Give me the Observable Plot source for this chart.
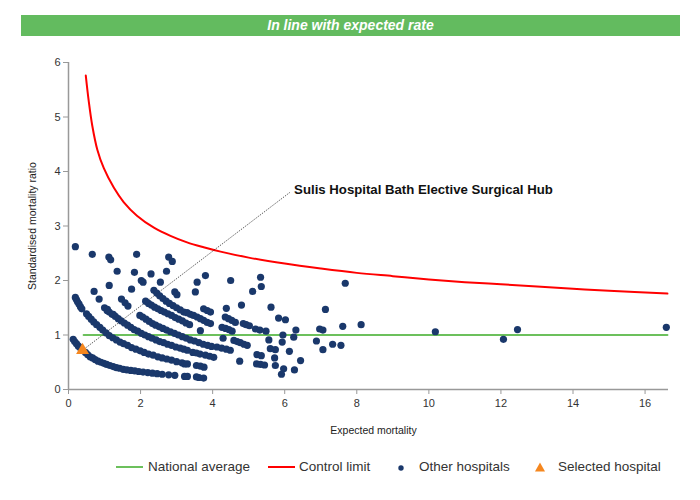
<!DOCTYPE html>
<html>
<head>
<meta charset="utf-8">
<script src="https://cdn.jsdelivr.net/npm/d3@7"></script>
<script src="https://cdn.jsdelivr.net/npm/@observablehq/plot@0.6"></script>
<style>
  html, body { margin: 0; padding: 0; background: #fff; }
  body { width: 700px; height: 500px; position: relative; overflow: hidden; font-family: "Liberation Sans", Arial, sans-serif; }
  #header { position: absolute; left: 21px; top: 15px; width: 659px; height: 21px; background: #63bb5f;
    color: #fff; font-family: "Liberation Sans Narrow", "Arial Narrow", "Liberation Sans", sans-serif; font-weight: bold; font-style: italic;
    font-size: 14px; line-height: 21px; text-align: center; }
  #chart { position: absolute; left: 0; top: 40px; }
  #legend { position: absolute; left: 0; top: 458px; width: 700px; height: 20px; font-size: 13.5px; color: #333; }
  #legend .sw, #legend .tx { position: absolute; }
  #legend .tx { top: 0; line-height: 18px; white-space: nowrap; }
</style>
</head>
<body>
<div id="header">In line with expected rate</div>
<div id="chart"></div>
<div id="legend"></div>
<script>
// ---- data (expected mortality, standardised mortality ratio) ----
const xTicks = [0, 2, 4, 6, 8, 10, 12, 14, 16];
const yTicks = [0, 1, 2, 3, 4, 5, 6];

const nationalAverageE = [0.42, 16.62];
const nationalAverageSMR = [1, 1];

const controlLimitE   = [0.48, 0.56, 0.66, 0.8, 0.98, 1.26, 1.53, 1.9, 2.37, 2.83, 3.29, 3.75, 4.22, 5, 6, 7, 8, 9, 10, 11, 12, 13, 14, 15, 16.62];
const controlLimitSMR = [5.76, 5.3, 4.84, 4.4, 4.06, 3.7, 3.44, 3.19, 2.97, 2.82, 2.7, 2.61, 2.53, 2.42, 2.31, 2.22, 2.14, 2.08, 2.02, 1.97, 1.93, 1.89, 1.85, 1.81, 1.76];

const bandA = [[0.13,0.92],[0.17,0.88],[0.22,0.84],[0.27,0.8],[0.32,0.77],[0.47,0.68],[0.53,0.64],[0.6,0.6],[0.67,0.58],[0.74,0.55],[0.82,0.52],[0.9,0.5],[0.98,0.48],[1.06,0.46],[1.15,0.44],[1.24,0.42],[1.33,0.4],[1.42,0.39],[1.52,0.37],[1.62,0.36],[1.73,0.35],[1.84,0.34],[1.95,0.33],[2.07,0.32],[2.2,0.31],[2.33,0.3],[2.46,0.29],[2.6,0.28],[2.78,0.27],[2.95,0.26],[3.22,0.24],[3.3,0.24],[3.55,0.23],[3.62,0.22],[3.75,0.21]];
const bandB = [[0.19,1.69],[0.22,1.65],[0.25,1.61],[0.29,1.57],[0.33,1.52],[0.37,1.48],[0.5,1.39],[0.56,1.34],[0.63,1.29],[0.7,1.24],[0.78,1.19],[0.87,1.14],[0.95,1.09],[1.04,1.04],[1.13,0.99],[1.23,0.95],[1.33,0.91],[1.43,0.87],[1.53,0.84],[1.64,0.81],[1.75,0.77],[1.87,0.74],[1.99,0.71],[2.1,0.68],[2.22,0.65],[2.35,0.63],[2.48,0.6],[2.6,0.58],[2.73,0.56],[2.86,0.54],[3.0,0.51],[3.15,0.49],[3.22,0.47],[3.3,0.47],[3.55,0.44],[3.66,0.43],[3.76,0.41]];
const bandC = [[1.0,1.5],[1.07,1.45],[1.13,1.42],[1.21,1.38],[1.3,1.34],[1.38,1.3],[1.46,1.26],[1.55,1.22],[1.64,1.18],[1.73,1.14],[1.82,1.1],[1.92,1.07],[2.02,1.03],[2.12,1.0],[2.22,0.97],[2.32,0.94],[2.43,0.91],[2.53,0.88],[2.64,0.86],[2.75,0.83],[2.86,0.81],[2.98,0.78],[3.1,0.76],[3.2,0.74],[3.3,0.72],[3.45,0.68],[3.55,0.67],[3.65,0.65],[3.8,0.63],[3.92,0.61],[4.03,0.59]];
const bandD = [[1.98,1.36],[2.06,1.33],[2.15,1.29],[2.24,1.25],[2.33,1.21],[2.42,1.18],[2.52,1.15],[2.62,1.12],[2.72,1.09],[2.83,1.06],[2.94,1.03],[3.05,1.0],[3.16,0.97],[3.27,0.94],[3.38,0.91],[3.5,0.89],[3.62,0.86],[3.74,0.83],[3.86,0.81],[3.97,0.79],[4.12,0.78],[4.25,0.76],[4.38,0.74],[4.49,0.72]];
const bandE = [[2.14,1.62],[2.22,1.58],[2.3,1.55],[2.39,1.51],[2.48,1.48],[2.57,1.45],[2.66,1.42],[2.76,1.39],[2.86,1.36],[2.96,1.32],[3.06,1.29],[3.16,1.26],[3.26,1.22],[3.36,1.19]];
const bandF = [[2.37,1.82],[2.45,1.77],[2.53,1.72],[2.62,1.67],[2.71,1.62],[2.8,1.58],[2.9,1.54],[3.0,1.5],[3.1,1.46],[3.2,1.42],[3.29,1.41],[3.38,1.38],[3.47,1.36],[3.57,1.33],[3.66,1.3],[3.75,1.27],[3.85,1.23]];
const scatterLow = [[3.75,1.48],[3.85,1.45],[3.94,1.42],[3.66,1.08],[3.94,1.21],[4.35,1.33],[4.44,1.3],[4.53,1.27],[4.63,1.23],[4.26,1.14],[4.36,1.12],[4.45,1.1],[4.54,1.07],[4.29,0.94],[4.59,0.9],[4.68,0.88],[4.77,0.86],[4.87,0.83],[4.96,0.81],[4.75,0.52],[4.85,1.21],[4.93,1.19],[5.02,1.17],[5.19,1.11],[5.31,1.09],[5.48,1.07],[5.23,0.64],[5.35,0.62],[5.22,0.47],[5.33,0.46],[5.44,0.45],[5.6,0.75],[5.74,0.73],[5.56,0.91],[5.72,0.58],[5.74,0.44],[5.97,0.38],[5.91,0.28],[5.93,0.87],[5.95,1.0],[5.83,1.31],[6.02,1.28],[6.13,0.7],[6.25,0.96],[6.27,0.36],[6.31,1.09],[6.44,0.53],[6.88,0.89],[6.97,1.11],[7.06,1.09],[7.06,0.73],[7.13,1.47],[7.33,0.83],[7.56,0.81],[7.61,1.16],[7.68,1.95],[8.12,1.19],[10.18,1.06],[12.07,0.92],[12.46,1.1],[16.59,1.14]];
const scatterHigh = [[0.19,2.62],[0.66,2.48],[1.12,2.43],[1.17,2.38],[1.89,2.48],[2.78,2.43],[2.88,2.35],[1.35,2.17],[1.83,2.15],[2.29,2.12],[2.72,2.17],[2.02,2.0],[2.07,1.97],[2.55,1.97],[2.95,1.79],[3.01,1.74],[3.8,2.09],[3.57,1.97],[3.52,1.79],[4.5,2.0],[1.13,1.91],[0.71,1.8],[0.85,1.66],[1.75,1.84],[1.47,1.66],[1.57,1.59],[1.65,1.53],[1.08,1.47],[1.24,1.38],[5.33,2.06],[5.35,1.89],[5.11,1.8],[4.8,1.55],[5.62,1.51],[4.38,1.49]];

const selectedName = "Sulis Hospital Bath Elective Surgical Hub";
const selectedE = [0.39];
const selectedSMR = [0.72];
const labelAnchorE = 6.15;
const labelAnchorSMR = 3.62;

// ---- build tables ----
const others = [...bandA, ...bandB, ...bandC, ...bandD, ...bandE, ...bandF, ...scatterLow, ...scatterHigh].map(([E, S]) => ({E, S}));
const avg = nationalAverageE.map((E, i) => ({E, S: nationalAverageSMR[i]}));
const limit = controlLimitE.map((E, i) => ({E, S: controlLimitSMR[i]}));
const selected = selectedE.map((E, i) => ({E, S: selectedSMR[i]}));
const leader = [{x1: selectedE[0], y1: selectedSMR[0], x2: labelAnchorE, y2: labelAnchorSMR}];

const navy = "#1a386b";
const plot = Plot.plot({
  width: 700,
  height: 410,
  marginLeft: 68, marginRight: 32, marginTop: 22, marginBottom: 61,
  x: {domain: [0, 16.65]},
  y: {domain: [0, 6]},
  style: {fontFamily: "'Liberation Sans', Arial, sans-serif", fontSize: "11px", color: "#333", background: "transparent"},
  marks: [
    Plot.axisX({ticks: xTicks, tickSize: 5, tickPadding: 5, tickFormat: d => String(d), label: null, stroke: "#999", fill: "#333"}),
    Plot.axisY({ticks: yTicks, tickSize: 5, tickPadding: 3, tickFormat: d => String(d), label: null, stroke: "#999", fill: "#333"}),
    Plot.ruleX([0], {stroke: "#999", strokeWidth: 1.5}),
    Plot.ruleY([0], {stroke: "#999", strokeWidth: 1.5}),
    Plot.line(avg, {x: "E", y: "S", stroke: "#6cc05c", strokeWidth: 2}),
    Plot.line(limit, {x: "E", y: "S", stroke: "#ff0000", strokeWidth: 2, curve: "catmull-rom"}),
    Plot.link(leader, {x1: "x1", y1: "y1", x2: "x2", y2: "y2", stroke: "#222", strokeWidth: 0.8, strokeDasharray: "1.2,1.2"}),
    Plot.dot(others, {x: "E", y: "S", r: 3.6, fill: navy, stroke: "none"}),
    Plot.dot(selected, {x: "E", y: "S", symbol: "triangle", r: 4.8, fill: "#f5871f", stroke: "none"}),
    Plot.text([selectedName], {x: labelAnchorE, y: labelAnchorSMR, text: d => d, textAnchor: "start", dx: 4, dy: -2,
      fontWeight: "bold", fontSize: 13.2, fill: "#111"}),
    Plot.text(["Standardised mortality ratio"], {frameAnchor: "left", text: d => d, dx: -36, rotate: -90, textAnchor: "middle", fontSize: 10.5, fill: "#222"}),
    Plot.text(["Expected mortality"], {frameAnchor: "bottom", text: d => d, dx: 5, dy: 41, textAnchor: "middle", lineAnchor: "middle", fontSize: 10.5, fill: "#222"})
  ]
});
document.getElementById("chart").appendChild(plot);

// ---- legend ----
const legendItems = [
  {label: "National average", kind: "line", color: "#6cc05c", sx: 116, tx: 148},
  {label: "Control limit", kind: "line", color: "#ff0000", sx: 268, tx: 299},
  {label: "Other hospitals", kind: "dot", color: navy, sx: 401, tx: 419},
  {label: "Selected hospital", kind: "tri", color: "#f5871f", sx: 540, tx: 558}
];
const lg = document.getElementById("legend");
for (const it of legendItems) {
  const sw = document.createElementNS("http://www.w3.org/2000/svg", "svg");
  sw.setAttribute("class", "sw");
  sw.setAttribute("width", 30); sw.setAttribute("height", 18);
  if (it.kind === "line") {
    sw.style.left = it.sx + "px"; sw.style.top = "0px";
    sw.innerHTML = `<line x1="0" x2="27" y1="9" y2="9" stroke="${it.color}" stroke-width="2"/>`;
  } else if (it.kind === "dot") {
    sw.style.left = (it.sx - 15) + "px"; sw.style.top = "0px";
    sw.innerHTML = `<circle cx="15" cy="10" r="2.7" fill="${it.color}"/>`;
  } else {
    sw.style.left = (it.sx - 15) + "px"; sw.style.top = "0px";
    sw.innerHTML = `<path d="M15,4.5 L20,13.5 L10,13.5 Z" fill="${it.color}"/>`;
  }
  lg.appendChild(sw);
  const t = document.createElement("span");
  t.className = "tx"; t.style.left = it.tx + "px"; t.textContent = it.label;
  lg.appendChild(t);
}
</script>
</body>
</html>
